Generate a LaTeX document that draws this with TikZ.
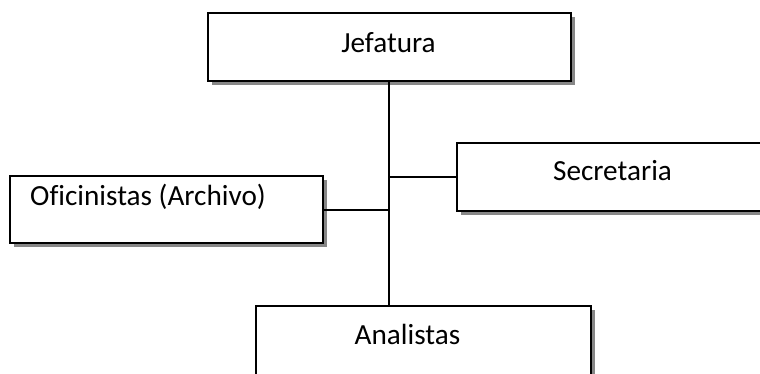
\documentclass[tikz,border=0pt]{standalone}
\usepackage{fontspec}
\setmainfont{Carlito}[Ligatures=NoCommon]
\usetikzlibrary{shadows}
\begin{document}
\begin{tikzpicture}[x=1pt,y=-1pt,
  unitbox/.style={draw=black,line width=2pt,fill=white,rectangle,inner sep=0pt,
    anchor=north west,
    drop shadow={shadow xshift=4pt,shadow yshift=-4pt,fill=black!47,opacity=1}},
  label/.style={inner sep=0pt,font=\fontsize{29.2}{35}\selectfont},
  link/.style={line width=2pt,draw=black}]
\useasboundingbox (0,0) rectangle (760,373);
% organisational units
\node[unitbox,minimum width=363pt,minimum height=68pt] (jef) at (207,12) {};
\node[unitbox,minimum width=313pt,minimum height=67pt] (ofi) at (9,175) {};
\node[unitbox,minimum width=320pt,minimum height=68pt] (sec) at (456,142) {};
\node[unitbox,minimum width=335pt,minimum height=80pt] (ana) at (255,305) {};
% unit names
\node[label,anchor=base] (tjef) at (388.5,52) {Jefatura};
\node[label,anchor=base west] (tofi) at (30,205) {Oficinistas (Archivo)};
\node[label,anchor=base] (tsec) at (612.5,180) {Secretaria};
\node[label,anchor=base] (tana) at (407.5,344) {Analistas};
% reporting lines
\coordinate (trunk) at (389,80);
\draw[link] (trunk) -- (trunk |- ana.north);
\draw[link] (ofi.east) -- (ofi.east -| trunk);
\draw[link] (sec.west) -- (sec.west -| trunk);
\end{tikzpicture}
\end{document}
